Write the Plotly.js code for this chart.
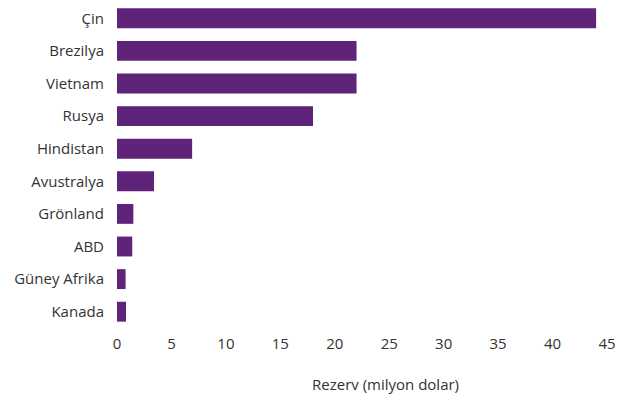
<!DOCTYPE html>
<html>
<head>
<meta charset="utf-8">
<script src="https://cdn.plot.ly/plotly-3.0.1.min.js"></script>
<style>html,body{margin:0;padding:0;background:#fff;}#chart{width:629px;height:406px;}</style>
</head>
<body>
<div id="chart"></div>
<script>
const countries = ["Çin", "Brezilya", "Vietnam", "Rusya", "Hindistan", "Avustralya", "Grönland", "ABD", "Güney Afrika", "Kanada"];
const reserves = [44, 22, 22, 18, 6.9, 3.4, 1.5, 1.4, 0.79, 0.83];
const tickValues = [0, 5, 10, 15, 20, 25, 30, 35, 40, 45];
const axisTitle = "Rezerv (milyon dolar)";

const font = "'Open Sans', sans-serif";
const trace = {
  type: "bar",
  orientation: "h",
  x: reserves,
  y: countries,
  marker: {color: "#5f2479"},
  hoverinfo: "x+y"
};
const layout = {
  width: 629, height: 406,
  margin: {l: 117, r: 22, t: 2, b: 78},
  paper_bgcolor: "#fff", plot_bgcolor: "#fff",
  bargap: 0.39,
  showlegend: false,
  font: {family: font, size: 15, color: "#333"},
  xaxis: {
    range: [0, 45],
    tickvals: tickValues,
    ticktext: tickValues.map(String),
    showgrid: false, zeroline: false, showline: false,
    ticks: "", ticklabelstandoff: 5,
    tickfont: {family: font, size: 15, color: "#333"}
  },
  yaxis: {
    autorange: "reversed",
    showgrid: false, zeroline: false, showline: false,
    ticks: "", ticklabelstandoff: 12,
    tickfont: {family: font, size: 15, color: "#333"}
  },
  annotations: [{
    text: axisTitle, xref: "paper", yref: "paper",
    x: (385 - 117) / 490, y: -(384 - 328) / 326,
    xanchor: "center", yanchor: "middle", showarrow: false,
    font: {family: font, size: 15, color: "#333"}
  }]
};
Plotly.newPlot("chart", [trace], layout, {displayModeBar: false, staticPlot: true});
</script>
</body>
</html>
